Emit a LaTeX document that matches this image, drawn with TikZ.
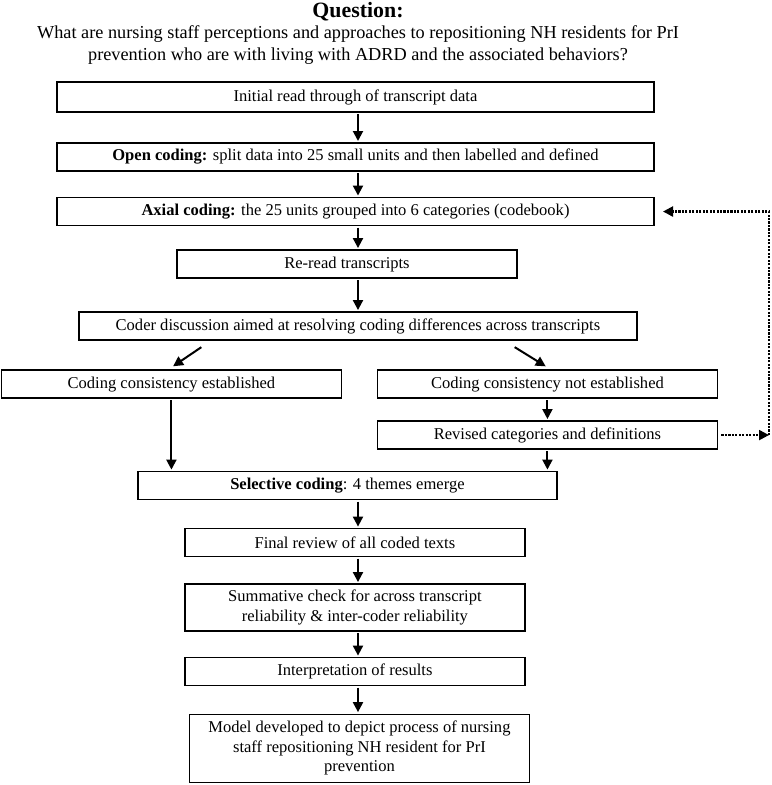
\documentclass[tikz,border=0pt]{standalone}
\usepackage{fontspec}
\setmainfont{Liberation Serif}
\usetikzlibrary{arrows.meta,positioning}
\tikzset{
  stage/.style={
    draw=black,
    line width=0.9pt,
    minimum height=21pt,
    inner sep=1pt,
    outer sep=0pt,
    align=center,
    font=\fontsize{12.4}{14.6}\selectfont
  },
  wide/.style={
    stage,
    minimum width=447.75pt
  },
  narrow/.style={
    stage,
    minimum width=255pt
  },
  flow/.style={
    -{Triangle[length=7.5pt,width=7.5pt]},
    line width=1.5pt,
    shorten <=1.5pt,
    shorten >=1.5pt
  },
  recheck/.style={
    -{Triangle[length=7.5pt,width=7.5pt]},
    line width=1.6pt,
    densely dotted
  }
}

\begin{document}
\begin{tikzpicture}[x=0.75pt,y=-0.75pt]
  \useasboundingbox (0,0) rectangle (771,785);

  \node[font=\bfseries\fontsize{16.4}{19}\selectfont] (title) at (358,12) {Question:};
  \node[align=center, font=\fontsize{13.7}{16.5}\selectfont] (question) at (358,45)
    {What are nursing staff perceptions and approaches to repositioning NH residents for PrI\\
     prevention who are with living with ADRD and the associated behaviors?};

  \node[wide, minimum height=22.5pt] (initial) at (355.5,97) {Initial read through of transcript data};
  \node[wide, below=23.25pt of initial] (open)
    {\textbf{Open coding:} split data into 25 small units and then labelled and defined};
  \node[wide, below=19.9pt of open] (axial)
    {\textbf{Axial coding:} the 25 units grouped into 6 categories (codebook)};
  \node[narrow, below=18.4pt of axial, xshift=-6.4pt] (reread) {Re-read transcripts};
  \node[stage, minimum width=418.5pt, below=25.5pt of reread, xshift=8.25pt] (coder)
    {Coder discussion aimed at resolving coding differences across transcripts};

  \node[narrow, below=22.5pt of coder, xshift=-139.9pt] (agreed) {Coding consistency established};
  \node[narrow, below=22.5pt of coder, xshift=142.1pt] (notagreed) {Coding consistency not established};
  \node[narrow, below=17.25pt of notagreed] (revised) {Revised categories and definitions};

  \node[stage, minimum width=314.25pt, below=16.9pt of revised, xshift=-150pt] (selective)
    {\textbf{Selective coding}: 4 themes emerge};
  \node[narrow, below=21.75pt of selective, xshift=5.6pt] (final) {Final review of all coded texts};
  \node[narrow, minimum height=35.25pt, below=20.6pt of final] (summative)
    {Summative check for across transcript\\reliability \& inter-coder reliability};
  \node[narrow, below=19.9pt of summative] (interp) {Interpretation of results};
  \node[narrow, minimum height=51pt, below=21.4pt of interp, xshift=3.4pt] (model)
    {Model developed to depict process of nursing\\staff repositioning NH resident for PrI\\prevention};

  % main column of arrows
  \coordinate (axis) at (358,0);
  \draw[flow] (initial.south -| axis) -- (open.north -| axis);
  \draw[flow] (open.south -| axis) -- (axial.north -| axis);
  \draw[flow] (axial.south -| axis) -- (reread.north -| axis);
  \draw[flow] (reread.south -| axis) -- (coder.north -| axis);
  \draw[flow] ([shift={(-155,6)}]coder.south) -- ([yshift=2pt]agreed.north);
  \draw[flow] ([shift={(155,6)}]coder.south) -- ([yshift=2pt]notagreed.north);
  \draw[flow] (notagreed) -- (revised);
  \draw[flow] (agreed.south) -- (agreed.south |- selective.north);
  \draw[flow] (revised.south) -- (revised.south |- selective.north);
  \draw[flow] (selective.south -| axis) -- (final.north -| axis);
  \draw[flow] (final.south -| axis) -- (summative.north -| axis);
  \draw[flow] (summative.south -| axis) -- (interp.north -| axis);
  \draw[flow] (interp.south -| axis) -- (model.north -| axis);

  % loop back to axial coding
  \coordinate (back) at (769,0);
  \draw[recheck, shorten <=3pt] (revised.east) -- (revised.east -| back);
  \draw[recheck, shorten >=6.75pt] (revised.east -| back) |- (axial.east);
\end{tikzpicture}
\end{document}
